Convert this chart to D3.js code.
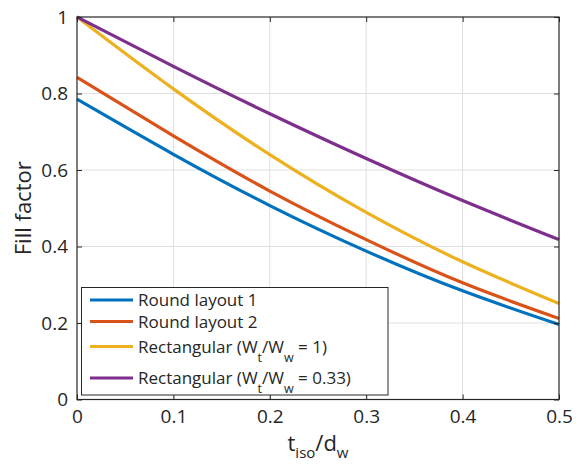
<!DOCTYPE html>
<html>
<head>
<meta charset="utf-8">
<script src="https://cdn.jsdelivr.net/npm/d3@7"></script>
<style>
  body { margin: 0; background: #fff; }
  text { font-family: "Open Sans", "Noto Sans", sans-serif; fill: #262626; }
</style>
</head>
<body>
<svg id="chart" width="584" height="466"></svg>
<script>
/***********************************************************************/
// Data

var tIso = [0, 0.1, 0.2, 0.3, 0.4, 0.5];
var round1 = [0.785, 0.641, 0.507, 0.388, 0.284, 0.196];
var round2 = [0.842, 0.689, 0.545, 0.418, 0.305, 0.212];
var rect1 = [1.0, 0.812, 0.640, 0.489, 0.360, 0.251];
var rect033 = [1.0, 0.871, 0.747, 0.630, 0.520, 0.418];

var xTicks = [0, 0.1, 0.2, 0.3, 0.4, 0.5];
var yTicks = [0, 0.2, 0.4, 0.6, 0.8, 1];

var seriesNames = [
  ['Round layout 1'],
  ['Round layout 2'],
  ['Rectangular (W', 't', '/W', 'w', ' = 1)'],
  ['Rectangular (W', 't', '/W', 'w', ' = 0.33)']
];
var seriesValues = [round1, round2, rect1, rect033];
var colors = ['#0072BD', '#D95319', '#EDB120', '#7E2F8E'];

/***********************************************************************/
// Layout

var plot = { left: 77, right: 559, top: 17, bottom: 399.5 };

var svg = d3.select('#chart');

var x = d3.scaleLinear().domain([0, 0.5]).range([plot.left, plot.right]);
var y = d3.scaleLinear().domain([0, 1]).range([plot.bottom, plot.top]);

// grid
svg.append('g').selectAll('line').data(xTicks.slice(1, -1)).join('line')
  .attr('x1', d => x(d)).attr('x2', d => x(d))
  .attr('y1', plot.top).attr('y2', plot.bottom)
  .attr('stroke', '#dfdfdf').attr('stroke-width', 1);
svg.append('g').selectAll('line').data(yTicks.slice(1, -1)).join('line')
  .attr('x1', plot.left).attr('x2', plot.right)
  .attr('y1', d => y(d)).attr('y2', d => y(d))
  .attr('stroke', '#dfdfdf').attr('stroke-width', 1);

// lines
var line = d3.line()
  .x((d, i) => x(tIso[i]))
  .y(d => y(d))
  .curve(d3.curveNatural);

svg.append('g').selectAll('path').data(seriesValues).join('path')
  .attr('d', d => line(d))
  .attr('fill', 'none')
  .attr('stroke', (d, i) => colors[i])
  .attr('stroke-width', 3.2);

// axes (box with inward ticks)
var tick = 5;
var axisColor = '#262626';

svg.append('g').attr('transform', 'translate(0,' + plot.bottom + ')')
  .call(d3.axisBottom(x).tickValues(xTicks).tickSizeInner(-tick).tickSizeOuter(0).tickPadding(10).tickFormat(d3.format('')))
  .call(g => g.select('.domain').remove())
  .call(g => g.selectAll('line').attr('stroke', axisColor))
  .call(g => g.selectAll('text').attr('font-size', 19).attr('fill', axisColor).style('font-family', '"Open Sans", sans-serif'));

svg.append('g').attr('transform', 'translate(' + plot.left + ',0)')
  .call(d3.axisLeft(y).tickValues(yTicks).tickSizeInner(-tick).tickSizeOuter(0).tickPadding(9).tickFormat(d3.format('')))
  .call(g => g.select('.domain').remove())
  .call(g => g.selectAll('line').attr('stroke', axisColor))
  .call(g => g.selectAll('text').attr('font-size', 19).attr('fill', axisColor).style('font-family', '"Open Sans", sans-serif'));

svg.append('g').attr('transform', 'translate(0,' + plot.top + ')')
  .call(d3.axisTop(x).tickValues(xTicks).tickSizeInner(-tick).tickSizeOuter(0).tickFormat(''))
  .call(g => g.select('.domain').remove())
  .call(g => g.selectAll('line').attr('stroke', axisColor));

svg.append('g').attr('transform', 'translate(' + plot.right + ',0)')
  .call(d3.axisRight(y).tickValues(yTicks).tickSizeInner(-tick).tickSizeOuter(0).tickFormat(''))
  .call(g => g.select('.domain').remove())
  .call(g => g.selectAll('line').attr('stroke', axisColor));

svg.append('rect')
  .attr('x', plot.left).attr('y', plot.top)
  .attr('width', plot.right - plot.left).attr('height', plot.bottom - plot.top)
  .attr('fill', 'none').attr('stroke', axisColor).attr('stroke-width', 1.2);

// axis labels
svg.append('text')
  .attr('transform', 'translate(31,' + ((plot.top + plot.bottom) / 2) + ') rotate(-90)')
  .attr('text-anchor', 'middle')
  .attr('font-size', 22)
  .text('Fill factor');

var xl = svg.append('text')
  .attr('x', x(0.25)).attr('y', 451)
  .attr('text-anchor', 'middle')
  .attr('font-size', 22);
xl.append('tspan').text('t');
xl.append('tspan').attr('font-size', 15).attr('dy', 7).text('iso');
xl.append('tspan').attr('dy', -7).text('/d');
xl.append('tspan').attr('font-size', 15).attr('dy', 7).text('w');

/***********************************************************************/
// Legend

var legend = svg.append('g');
legend.append('rect')
  .attr('x', 81.5).attr('y', 287.5).attr('width', 306.5).attr('height', 107.5)
  .attr('fill', '#fff').attr('stroke', axisColor).attr('stroke-width', 1);

var legendY = [300, 321.5, 346.5, 378];

seriesNames.forEach((parts, i) => {
  legend.append('line')
    .attr('x1', 90).attr('x2', 133)
    .attr('y1', legendY[i]).attr('y2', legendY[i])
    .attr('stroke', colors[i]).attr('stroke-width', 3.2);
  var t = legend.append('text')
    .attr('x', 138).attr('y', legendY[i] + 6)
    .attr('font-size', 17);
  parts.forEach((p, j) => {
    var ts = t.append('tspan').text(p);
    if (j === 1 || j === 3) ts.attr('font-size', 12.5).attr('dy', 9);
    if (j === 2 || j === 4) ts.attr('dy', -9);
  });
});
</script>
</body>
</html>
